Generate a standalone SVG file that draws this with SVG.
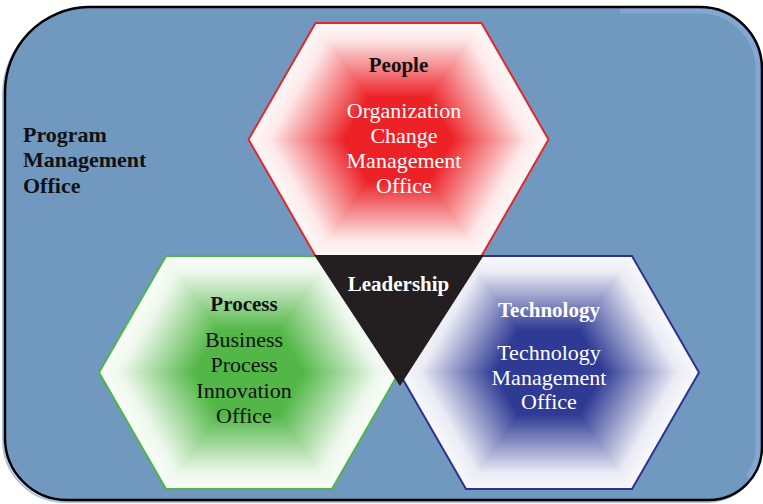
<svg xmlns="http://www.w3.org/2000/svg" width="763" height="504" viewBox="0 0 763 504">
<defs>
<style>
.hd{font-family:"Liberation Serif","Times New Roman",serif;font-weight:bold;font-size:21px;text-anchor:middle}
.bd{font-family:"Liberation Serif","Times New Roman",serif;font-size:22px;text-anchor:middle}
.pm{font-family:"Liberation Serif","Times New Roman",serif;font-weight:bold;font-size:22px}
.blk{fill:#111}
.wht{fill:#fff}
.tri{shape-rendering:crispEdges}
</style>
<linearGradient id="gT" gradientUnits="userSpaceOnUse" x1="0" y1="0" x2="0" y2="-116.5"><stop offset="0" stop-color="#fff" stop-opacity="0"/><stop offset="0.36" stop-color="#fff" stop-opacity="0"/><stop offset="0.86" stop-color="#fff" stop-opacity="0.9"/><stop offset="1" stop-color="#fff" stop-opacity="0.97"/></linearGradient>
<linearGradient id="gB" href="#gT" gradientUnits="userSpaceOnUse" x1="0" y1="0" x2="0" y2="116.5"/>
<linearGradient id="gUR" href="#gT" gradientUnits="userSpaceOnUse" x1="0" y1="0" x2="112.72" y2="-64.83"/>
<linearGradient id="gLR" href="#gT" gradientUnits="userSpaceOnUse" x1="0" y1="0" x2="112.72" y2="64.83"/>
<linearGradient id="gLL" href="#gT" gradientUnits="userSpaceOnUse" x1="0" y1="0" x2="-112.72" y2="64.83"/>
<linearGradient id="gUL" href="#gT" gradientUnits="userSpaceOnUse" x1="0" y1="0" x2="-112.72" y2="-64.83"/>
<g id="fade" class="tri">
<polygon points="0,0 -83,-116.5 83,-116.5" fill="url(#gT)"/>
<polygon points="0,0 83,-116.5 150,0" fill="url(#gUR)"/>
<polygon points="0,0 150,0 83,116.5" fill="url(#gLR)"/>
<polygon points="0,0 83,116.5 -83,116.5" fill="url(#gB)"/>
<polygon points="0,0 -83,116.5 -150,0" fill="url(#gLL)"/>
<polygon points="0,0 -150,0 -83,-116.5" fill="url(#gUL)"/>
</g>
<polygon id="hex" points="-150,0 -83,-116.5 83,-116.5 150,0 83,116.5 -83,116.5"/>
<path id="frame" d="M88,7 H700 A62,62 0 0 1 762,69 V447 A53,53 0 0 1 709,500 H67 A62,62 0 0 1 5,438 V92 A85,85 0 0 1 88,7 Z"/>
</defs>

<g id="background">
<use href="#frame" transform="translate(-2,2)" fill="none" stroke="#a9c3df" stroke-width="2"/>
<use href="#frame" fill="#7199c0"/>
<path d="M620,11 H700 A58,58 0 0 1 758,69 V447 A49,49 0 0 1 748,477" fill="none" stroke="#88aed8" stroke-width="5" opacity="0.75"/>
<use href="#frame" fill="none" stroke="#000" stroke-width="2.5"/>
<text class="pm blk" x="23" y="142">Program</text>
<text class="pm blk" x="23" y="167">Management</text>
<text class="pm blk" x="23" y="193">Office</text>
</g>

<g id="people">
<g transform="translate(398.5,139.5)">
<use href="#hex" fill="#ec2227"/>
<use href="#fade"/>
<use href="#hex" fill="none" stroke="#e5262b" stroke-width="2"/>
</g>
<text class="hd blk" x="398.5" y="72">People</text>
<text class="bd wht" x="404" y="118">Organization</text>
<text class="bd wht" x="404" y="143">Change</text>
<text class="bd wht" x="404" y="168">Management</text>
<text class="bd wht" x="404" y="193">Office</text>
</g>

<g id="process">
<g transform="translate(249,372.5)">
<use href="#hex" fill="#52b747"/>
<use href="#fade"/>
<use href="#hex" fill="none" stroke="#4db748" stroke-width="2"/>
</g>
<text class="hd blk" x="244" y="311">Process</text>
<text class="bd blk" x="244" y="347">Business</text>
<text class="bd blk" x="244" y="372">Process</text>
<text class="bd blk" x="244" y="398">Innovation</text>
<text class="bd blk" x="244" y="423">Office</text>
</g>

<g id="technology">
<g transform="translate(549,372.5)">
<use href="#hex" fill="#2e3a94"/>
<use href="#fade"/>
<use href="#hex" fill="none" stroke="#2e3192" stroke-width="2"/>
</g>
<text class="hd wht" x="549" y="317">Technology</text>
<text class="bd wht" x="549" y="360">Technology</text>
<text class="bd wht" x="549" y="385">Management</text>
<text class="bd wht" x="549" y="409">Office</text>
</g>

<g id="leadership">
<polygon points="314,255 484,255 400,386" fill="#231f20"/>
<text class="hd wht" x="398.5" y="291">Leadership</text>
</g>

<g id="connectors"></g>
</svg>
